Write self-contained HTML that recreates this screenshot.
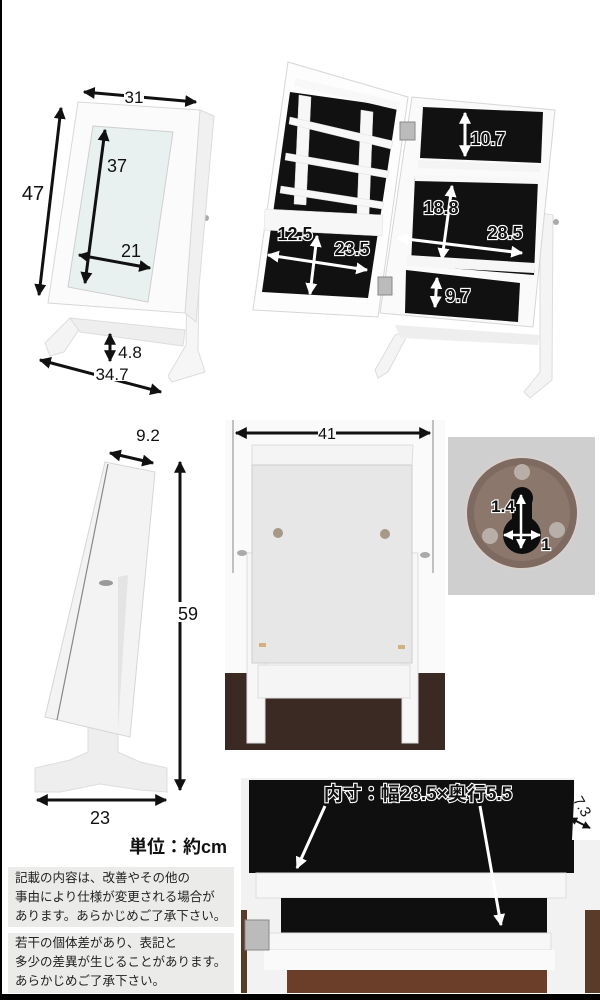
<!DOCTYPE html>
<html><head><meta charset="utf-8"><style>
html,body{margin:0;padding:0;background:#fff;}
svg{display:block;}
.lbl{font-family:"Liberation Sans","Noto Sans CJK JP",sans-serif;fill:#111;}
.ol{font-family:"Liberation Sans","Noto Sans CJK JP",sans-serif;font-weight:bold;fill:#111;stroke:#fff;stroke-width:2.2;paint-order:stroke;}
.jp{font-family:"Liberation Sans","Noto Sans CJK JP",sans-serif;font-size:12.5px;fill:#222;}
</style></head><body>
<svg width="600" height="1000" viewBox="0 0 600 1000" xmlns="http://www.w3.org/2000/svg">
<defs>
<marker id="ab" viewBox="0 0 10 10" refX="9" refY="5" markerWidth="4" markerHeight="4" orient="auto-start-reverse"><path d="M0,0L10,5L0,10z" fill="#111"/></marker>
<marker id="aw" viewBox="0 0 10 10" refX="9" refY="5" markerWidth="4" markerHeight="4" orient="auto-start-reverse"><path d="M0,0L10,5L0,10z" fill="#fff"/></marker>
</defs>
<rect width="600" height="1000" fill="#fff"/>

<!-- ===== Top-left closed cabinet ===== -->
<polygon points="45,343 70,318 84,322 64,352 50,356" fill="#f4f4f4" stroke="#ddd"/>
<polygon points="70,318 185,330 183,346 80,332" fill="#eee" stroke="#ddd"/>
<polygon points="188,212 200,215 198,350 205,372 172,382 168,376 186,345" fill="#f6f6f6" stroke="#ddd"/>
<circle cx="206" cy="218" r="3" fill="#aaa"/>
<polygon points="200,110 214,116 196,322 185,313" fill="#f0f0f0" stroke="#ddd"/>
<polygon points="78,102 200,110 185,313 48,303" fill="#fbfbfb" stroke="#d8d8d8"/>
<polygon points="93,126 173,132 148,302 68,287" fill="#e9f0f0" stroke="#cfcfcf"/>
<g stroke="#111" stroke-width="3" fill="none">
<line x1="84" y1="92" x2="196" y2="102" marker-start="url(#ab)" marker-end="url(#ab)"/>
<line x1="61" y1="108" x2="39" y2="295" marker-start="url(#ab)" marker-end="url(#ab)"/>
<line x1="105" y1="130" x2="85" y2="283" marker-start="url(#ab)" marker-end="url(#ab)"/>
<line x1="79" y1="255" x2="150" y2="268" marker-start="url(#ab)" marker-end="url(#ab)"/>
<line x1="110" y1="334" x2="110" y2="361" marker-start="url(#ab)" marker-end="url(#ab)"/>
<line x1="40" y1="360" x2="161" y2="392" marker-start="url(#ab)" marker-end="url(#ab)"/>
</g>
<rect x="124" y="88" width="20" height="16" fill="#fff"/>
<text class="lbl" x="134" y="103" font-size="17" text-anchor="middle">31</text>
<text class="lbl" x="33" y="200" font-size="20" text-anchor="middle">47</text>
<text class="lbl" x="117" y="172" font-size="18" text-anchor="middle">37</text>
<text class="lbl" x="131" y="257" font-size="18" text-anchor="middle">21</text>
<text class="lbl" x="130" y="358" font-size="17" text-anchor="middle">4.8</text>
<rect x="94" y="365" width="36" height="16" fill="#fff"/>
<text class="lbl" x="112" y="380" font-size="17" text-anchor="middle">34.7</text>

<!-- ===== Top-right open cabinet ===== -->
<polygon points="375,370 395,335 410,330 388,372 378,378" fill="#f4f4f4" stroke="#ddd"/>
<polygon points="540,213 553,215 552,380 530,398 524,392 540,372" fill="#f4f4f4" stroke="#ddd"/>
<circle cx="556" cy="222" r="3" fill="#aaa"/>
<polygon points="395,325 540,335 538,345 400,338" fill="#eee"/>
<!-- cabinet body -->
<polygon points="412,97 555,110 533,327 380,313" fill="#fafafa" stroke="#d6d6d6"/>
<polygon points="423,107 543,112 541,163 420,158" fill="#111"/>
<polygon points="418,160 541,165 540,172 418,168" fill="#f4f4f4"/>
<polygon points="415,176 538,180 534,275 411,265" fill="#111"/>
<polygon points="415,175 538,178 538,184 415,181" fill="#f8f8f8"/>
<polygon points="407,255 535,263 534,273 406,266" fill="#f6f6f6"/>
<polygon points="406,270 520,283 518,322 405,313" fill="#111"/>
<!-- door -->
<polygon points="288,62 408,97 378,317 253,310" fill="#fdfdfd" stroke="#d6d6d6"/>
<polygon points="290,92 397,107 368,298 262,292" fill="#111"/>
<polygon points="295,78 400,102 398,110 294,86" fill="#f8f8f8"/>
<g fill="#f7f7f7" stroke="#ddd" stroke-width="0.5">
<polygon points="299,95 311,97 306,205 294,204"/>
<polygon points="361,110 373,112 369,215 357,214"/>
<polygon points="290,117 393,141 391,149 289,124"/>
<polygon points="286,153 389,171 387,178 285,160"/>
<polygon points="281,186 384,202 382,209 280,193"/>
<polygon points="265,209 383,215 382,236 264,230"/>
</g>
<rect x="400" y="122" width="15" height="18" fill="#bbb" stroke="#888"/>
<rect x="378" y="277" width="14" height="18" fill="#bbb" stroke="#888"/>
<g stroke="#fff" stroke-width="3" fill="none">
<line x1="465" y1="113" x2="465" y2="156" marker-start="url(#aw)" marker-end="url(#aw)"/>
<line x1="452" y1="186" x2="442" y2="259" marker-start="url(#aw)" marker-end="url(#aw)"/>
<line x1="398" y1="238" x2="522" y2="253" marker-start="url(#aw)" marker-end="url(#aw)"/>
<line x1="317" y1="236" x2="310" y2="294" marker-start="url(#aw)" marker-end="url(#aw)"/>
<line x1="268" y1="255" x2="367" y2="270" marker-start="url(#aw)" marker-end="url(#aw)"/>
<line x1="437" y1="278" x2="435" y2="307" marker-start="url(#aw)" marker-end="url(#aw)"/>
</g>
<text class="ol" x="488" y="145" font-size="18" text-anchor="middle">10.7</text>
<text class="ol" x="441" y="214" font-size="18" text-anchor="middle">18.8</text>
<text class="ol" x="505" y="239" font-size="18" text-anchor="middle">28.5</text>
<text class="ol" x="295" y="240" font-size="18" text-anchor="middle">12.5</text>
<text class="ol" x="352" y="255" font-size="18" text-anchor="middle">23.5</text>
<text class="ol" x="458" y="302" font-size="18" text-anchor="middle">9.7</text>

<!-- ===== Side view ===== -->
<polygon points="35,768 70,760 88,752 88,577 118,577 118,752 140,762 167,768 167,792 140,790 100,784 60,792 35,792" fill="#eeeeee" stroke="#ddd"/>
<polygon points="105,462 155,472 130,737 87,727 45,717" fill="#f3f3f3" stroke="#d6d6d6"/>
<line x1="108" y1="464" x2="57" y2="720" stroke="#888" stroke-width="1.2"/>
<polygon points="118,577 128,575 118,730" fill="#e4e4e4"/>
<ellipse cx="106" cy="583" rx="7" ry="3" fill="#999"/>
<g stroke="#111" stroke-width="3" fill="none">
<line x1="110" y1="453" x2="153" y2="463" marker-start="url(#ab)" marker-end="url(#ab)"/>
<line x1="180" y1="462" x2="180" y2="790" marker-start="url(#ab)" marker-end="url(#ab)"/>
<line x1="37" y1="800" x2="166" y2="800" marker-start="url(#ab)" marker-end="url(#ab)"/>
</g>
<text class="lbl" x="148" y="441" font-size="17" text-anchor="middle">9.2</text>
<rect x="176" y="602" width="22" height="20" fill="#fff"/>
<text class="lbl" x="188" y="620" font-size="18" text-anchor="middle">59</text>
<text class="lbl" x="100" y="824" font-size="18" text-anchor="middle">23</text>
<text class="lbl" x="178" y="853" font-size="18" font-weight="bold" text-anchor="middle">単位：約cm</text>

<!-- ===== Back view photo ===== -->
<rect x="225" y="420" width="220" height="330" fill="#fafafa"/>
<rect x="225" y="673" width="220" height="77" fill="#3b2a24"/>
<rect x="247" y="553" width="18" height="190" fill="#f7f7f7" stroke="#ddd"/>
<rect x="402" y="553" width="16" height="190" fill="#f7f7f7" stroke="#ddd"/>
<rect x="258" y="665" width="152" height="33" fill="#f5f5f5" stroke="#ddd"/>
<polygon points="252,445 413,445 412,465 252,465" fill="#f4f4f4" stroke="#ddd"/>
<rect x="252" y="465" width="160" height="198" fill="#e7e7e7" stroke="#ccc"/>
<circle cx="278" cy="533" r="5" fill="#a89888"/><circle cx="385" cy="534" r="5" fill="#a89888"/>
<ellipse cx="242" cy="553" rx="5" ry="3" fill="#aaa"/><ellipse cx="425" cy="555" rx="5" ry="3" fill="#aaa"/>
<rect x="259" y="643" width="7" height="4" fill="#d4b080"/><rect x="398" y="645" width="7" height="4" fill="#d4b080"/>
<g stroke="#999" stroke-width="1.2"><line x1="233" y1="420" x2="233" y2="573"/><line x1="433" y1="420" x2="433" y2="573"/></g>
<line x1="236" y1="433" x2="430" y2="433" stroke="#111" stroke-width="3" marker-start="url(#ab)" marker-end="url(#ab)"/>
<rect x="318" y="424" width="18" height="16" fill="#fafafa"/>
<text class="lbl" x="327" y="439" font-size="16" text-anchor="middle">41</text>

<!-- ===== Keyhole close-up ===== -->
<rect x="448" y="437" width="147" height="158" fill="#cfcfcf"/>
<circle cx="522" cy="513" r="56" fill="#7e6a60" stroke="#d8d0cc" stroke-width="2"/>
<circle cx="522" cy="513" r="48" fill="#8b776c"/>
<circle cx="522" cy="498" r="11" fill="#0d0d0d"/>
<circle cx="522" cy="535" r="19" fill="#0d0d0d"/>
<rect x="512" y="498" width="20" height="30" fill="#0d0d0d"/>
<circle cx="522" cy="472" r="8" fill="#b8b0a8"/><circle cx="490" cy="536" r="8" fill="#b8b0a8"/><circle cx="557" cy="530" r="8" fill="#b8b0a8"/>
<g stroke="#fff" stroke-width="2.5" fill="none">
<line x1="521" y1="495" x2="521" y2="548" marker-start="url(#aw)" marker-end="url(#aw)"/>
<line x1="504" y1="535" x2="540" y2="535" marker-start="url(#aw)" marker-end="url(#aw)"/>
</g>
<text class="ol" x="503" y="512" font-size="17" text-anchor="middle">1.4</text>
<text class="ol" x="546" y="550" font-size="17" text-anchor="middle">1</text>

<!-- ===== Drawer photo ===== -->
<rect x="241" y="778" width="359" height="215" fill="#f2f2f2"/>
<rect x="249" y="780" width="325" height="93" fill="#0f0f0f"/>
<rect x="256" y="873" width="310" height="25" fill="#f7f7f7" stroke="#ddd"/>
<rect x="281" y="898" width="266" height="35" fill="#0f0f0f"/>
<rect x="268" y="933" width="283" height="17" fill="#f7f7f7" stroke="#ddd"/>
<rect x="264" y="950" width="291" height="20" fill="#fafafa"/>
<rect x="287" y="970" width="260" height="23" fill="#6a3e28"/>
<rect x="585" y="910" width="15" height="83" fill="#5a3a28"/>
<rect x="241" y="910" width="6" height="83" fill="#5a3a28"/>
<rect x="245" y="920" width="24" height="30" fill="#bbb" stroke="#888"/>
<polygon points="575,778 600,778 600,840 572,840" fill="#fff"/>
<g stroke="#fff" stroke-width="3" fill="none">
<line x1="325" y1="806" x2="297" y2="868" marker-end="url(#aw)"/>
<line x1="480" y1="806" x2="501" y2="925" marker-end="url(#aw)"/>
</g>
<line x1="570" y1="818" x2="590" y2="828" stroke="#111" stroke-width="2" marker-start="url(#ab)" marker-end="url(#ab)"/>
<text class="ol" x="418" y="800" font-size="19" text-anchor="middle">内寸：幅28.5×奥行5.5</text>
<text class="lbl" x="583" y="812" font-size="15" text-anchor="middle" transform="rotate(60 583 806)">7.3</text>

<!-- ===== Note boxes ===== -->
<rect x="8" y="867" width="226" height="60" fill="#ebebe9"/>
<rect x="8" y="933" width="226" height="60" fill="#ebebe9"/>
<text class="jp" x="15" y="882">記載の内容は、改善やその他の</text>
<text class="jp" x="15" y="901">事由により仕様が変更される場合が</text>
<text class="jp" x="15" y="920">あります。あらかじめご了承下さい。</text>
<text class="jp" x="15" y="947">若干の個体差があり、表記と</text>
<text class="jp" x="15" y="966">多少の差異が生じることがあります。</text>
<text class="jp" x="15" y="985">あらかじめご了承下さい。</text>

<rect x="0" y="0" width="2" height="1000" fill="#000"/>
<rect x="0" y="994" width="600" height="6" fill="#000"/>
</svg>
</body></html>
